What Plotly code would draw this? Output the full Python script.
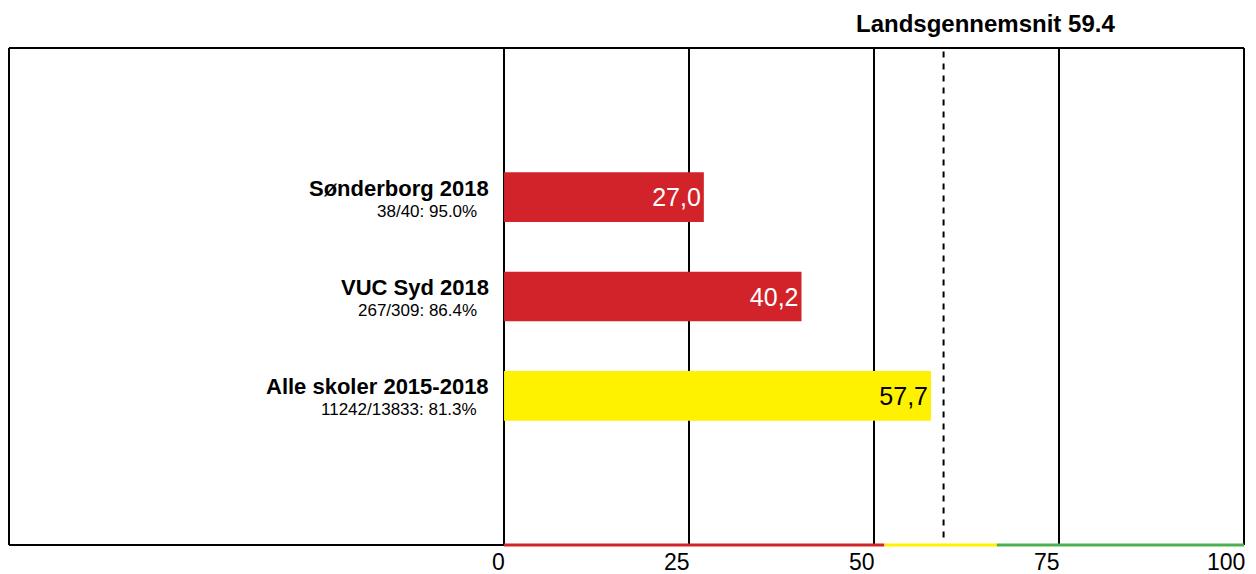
import plotly.graph_objs as go

# data
names = ["Sønderborg 2018", "VUC Syd 2018", "Alle skoler 2015-2018"]
subtitles = ["38/40: 95.0%", "267/309: 86.4%", "11242/13833: 81.3%"]
values = [27.0, 40.2, 57.7]
bar_colors = ["#d2232a", "#d2232a", "#fff200"]
text_colors = ["white", "white", "black"]
national_avg = 59.4
tick_values = [0, 25, 50, 75, 100]
tick_labels = ["0", "25", "50", "75", "100"]
band_starts = [0, 51.4, 66.6]
band_ends = [51.4, 66.6, 100]
band_colors = ["#d2232a", "#fff200", "#4caf50"]

FONT = "Liberation Sans, Arial, sans-serif"
x_min = -66.9  # room for the labels on the left

fig = go.Figure()
fig.add_trace(go.Bar(
    y=names,
    x=values,
    orientation="h",
    width=0.5,
    marker=dict(color=bar_colors, line=dict(width=0)),
    text=[f"{v:.1f}".replace(".", ",") for v in values],
    textposition="inside",
    insidetextanchor="end",
    textangle=0,
    constraintext="none",
    textfont=dict(family=FONT, size=25, color=text_colors),
    hoverinfo="skip",
))

shapes = [
    # frame
    dict(type="line", xref="paper", yref="paper", x0=0, x1=1, y0=1, y1=1,
         line=dict(color="black", width=2)),
    dict(type="line", xref="paper", yref="paper", x0=0, x1=0, y0=0, y1=1,
         line=dict(color="black", width=2)),
    dict(type="line", xref="paper", yref="paper", x0=1, x1=1, y0=0, y1=1,
         line=dict(color="black", width=2)),
    dict(type="line", xref="x", yref="paper", x0=x_min, x1=0, y0=0, y1=0,
         line=dict(color="black", width=2)),
    # national average
    dict(type="line", xref="x", yref="paper", x0=national_avg, x1=national_avg, y0=0.015, y1=1,
         line=dict(color="black", width=2, dash="6px,6px"), layer="above"),
]
for s, e, c in zip(band_starts, band_ends, band_colors):
    shapes.append(dict(type="line", xref="x", yref="paper", x0=s, x1=e, y0=0, y1=0,
                       line=dict(color=c, width=3), layer="above"))

annotations = []
for n, sub in zip(names, subtitles):
    annotations.append(dict(x=0, y=n, xref="x", yref="y", text=f"<b>{n}</b>",
                            showarrow=False, xanchor="right", yanchor="middle",
                            xshift=-13, yshift=9,
                            font=dict(family=FONT, size=22, color="black")))
    annotations.append(dict(x=0, y=n, xref="x", yref="y", text=sub,
                            showarrow=False, xanchor="right", yanchor="middle",
                            xshift=-25, yshift=-14,
                            font=dict(family=FONT, size=17, color="black")))
for tv, tl in zip(tick_values, tick_labels):
    annotations.append(dict(x=tv, y=0, xref="x", yref="paper", text=tl,
                            showarrow=False, xanchor="right", yanchor="top",
                            xshift=2, yshift=-3, borderpad=0,
                            font=dict(family=FONT, size=23, color="black")))
annotations.append(dict(x=national_avg, y=1, xref="x", yref="paper",
                        text=f"<b>Landsgennemsnit {national_avg}</b>",
                        showarrow=False, xanchor="center", yanchor="bottom",
                        xshift=42, yshift=9,
                        font=dict(family=FONT, size=24, color="black")))

fig.update_layout(
    width=1256,
    height=574,
    margin=dict(l=9, r=12, t=48, b=29, pad=0),
    paper_bgcolor="white",
    plot_bgcolor="white",
    showlegend=False,
    shapes=shapes,
    annotations=annotations,
    xaxis=dict(range=[x_min, 100], tickvals=tick_values, showticklabels=False,
               showgrid=True, gridcolor="black", gridwidth=2, zeroline=False,
               showline=False, ticks=""),
    yaxis=dict(range=[2 + 1.5, -1.5], showticklabels=False, showgrid=False,
               zeroline=False, showline=False, ticks=""),
)

# page has a default body margin, drop it so the figure sits at 0,0
fig.write_html("out.html", config={"displayModeBar": False},
               post_script="document.body.style.margin='0';")
